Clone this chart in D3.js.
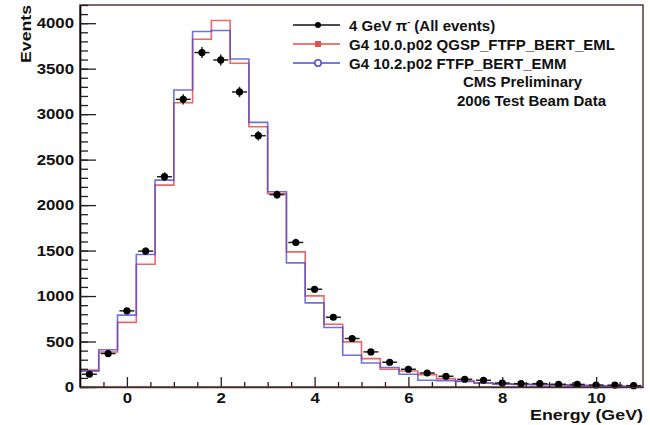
<!DOCTYPE html>
<html>
<head>
<meta charset="utf-8">
<script src="https://cdn.jsdelivr.net/npm/d3@7"></script>
<style>
  html, body { margin: 0; padding: 0; background: #fff; }
  svg { display: block; }
  text { font-family: "Liberation Sans", Arial, Helvetica, sans-serif; font-weight: bold; }
</style>
</head>
<body>
<svg id="chart" width="650" height="425"></svg>
<script>
// Bin centres of the energy histogram (GeV), bins are 0.4 GeV wide
const energyBins = [-0.8, -0.4, 0.0, 0.4, 0.8, 1.2, 1.6, 2.0, 2.4, 2.8,
                    3.2, 3.6, 4.0, 4.4, 4.8, 5.2, 5.6, 6.0, 6.4, 6.8,
                    7.2, 7.6, 8.0, 8.4, 8.8, 9.2, 9.6, 10.0, 10.4, 10.8];
const binWidth = 0.4;

// 2006 test beam data, 4 GeV pi- (all events)
const beamData = [140, 368, 837, 1494, 2312, 3163, 3677, 3596, 3244, 2763,
                  2115, 1589, 1075, 767, 533, 386, 272, 195, 154, 118,
                  85, 74, 44, 37, 37, 30, 28, 22, 20, 15];

// G4 10.0.p02 QGSP_FTFP_BERT_EML
const qgspEml = [185, 385, 710, 1350, 2220, 3126, 3824, 4029, 3560, 2862,
                 2125, 1486, 1002, 690, 496, 312, 195, 176, 136, 92,
                 66, 44, 35, 30, 28, 24, 18, 13, 9, 6];

// G4 10.2.p02 FTFP_BERT_EMM
const ftfpEmm = [175, 410, 790, 1457, 2275, 3266, 3908, 3919, 3607, 2910,
                 2147, 1365, 925, 654, 349, 264, 215, 140, 75, 70,
                 62, 44, 32, 28, 26, 22, 17, 12, 8, 5];

const xTicks = [0, 2, 4, 6, 8, 10];
const yTicks = [0, 500, 1000, 1500, 2000, 2500, 3000, 3500, 4000];
const xDomain = [-1, 11];
const yDomain = [0, 4200];

const legendLabels = ["4 GeV \u03C0", "G4 10.0.p02 QGSP_FTFP_BERT_EML", "G4 10.2.p02 FTFP_BERT_EMM"];
const noteLabels = ["CMS Preliminary", "2006 Test Beam Data"];

const RED = "rgb(232,78,72)";
const BLUE = "rgb(76,76,215)";

const svg = d3.select("#chart");
const frame = { left: 80, right: 643, top: 5, bottom: 387 };

const x = d3.scaleLinear().domain(xDomain).range([frame.left, frame.right]);
const y = d3.scaleLinear().domain(yDomain).range([frame.bottom, frame.top]);

// frame (top / right edges)
svg.append("rect")
  .attr("x", frame.left).attr("y", frame.top)
  .attr("width", frame.right - frame.left).attr("height", frame.bottom - frame.top)
  .attr("fill", "none").attr("stroke", "#5a3838").attr("stroke-width", 1.5);

// step outline of a histogram
function histPoints(values) {
  const lo = energyBins.map(c => c - binWidth / 2);
  const pts = [[lo[0], 0]];
  values.forEach((v, i) => pts.push([lo[i], v]));
  pts.push([lo[lo.length - 1] + binWidth, values[values.length - 1]]);
  pts.push([lo[lo.length - 1] + binWidth, 0]);
  return pts;
}
const stepLine = d3.line().x(d => x(d[0])).y(d => y(d[1])).curve(d3.curveStepAfter);

svg.append("path").attr("d", stepLine(histPoints(qgspEml)))
  .attr("fill", "none").attr("stroke", RED).attr("stroke-width", 1.6).attr("stroke-opacity", 0.85);
svg.append("path").attr("d", stepLine(histPoints(ftfpEmm)))
  .attr("fill", "none").attr("stroke", BLUE).attr("stroke-width", 1.6).attr("stroke-opacity", 0.8);

// data points with error bars
const xErr = 0.16;
const pts = svg.append("g").selectAll("g").data(energyBins.map((c, i) => ({ c, v: beamData[i] })))
  .join("g");
pts.append("line")
  .attr("x1", d => x(d.c - xErr)).attr("x2", d => x(d.c + xErr))
  .attr("y1", d => y(d.v)).attr("y2", d => y(d.v))
  .attr("stroke", "#222").attr("stroke-width", 1.5);
pts.append("line")
  .attr("x1", d => x(d.c)).attr("x2", d => x(d.c))
  .attr("y1", d => y(d.v + Math.sqrt(d.v))).attr("y2", d => y(Math.max(0, d.v - Math.sqrt(d.v))))
  .attr("stroke", "#222").attr("stroke-width", 1.5);
pts.append("circle")
  .attr("cx", d => x(d.c)).attr("cy", d => y(d.v)).attr("r", 3.6)
  .attr("fill", "#000");

// axes
const axisTextScale = "scale(1.2,1)";
const fmt = d3.format("d");

const yMinor = d3.axisLeft(y).tickValues(d3.range(0, 4201, 100))
  .tickSizeInner(-8).tickSizeOuter(0).tickFormat("");
svg.append("g").attr("transform", `translate(${frame.left},0)`).call(yMinor)
  .call(g => g.select(".domain").remove())
  .call(g => g.selectAll("line").attr("stroke", "#222").attr("stroke-width", 1.3));

const yMajor = d3.axisLeft(y).tickValues(yTicks).tickFormat(fmt)
  .tickSizeInner(-16).tickSizeOuter(0).tickPadding(5);
svg.append("g").attr("transform", `translate(${frame.left},0)`).call(yMajor)
  .call(g => g.select(".domain").attr("stroke", "#000").attr("stroke-width", 1.6))
  .call(g => g.selectAll("line").attr("stroke", "#222").attr("stroke-width", 1.3))
  .call(g => g.selectAll("text").attr("font-size", 14).attr("font-family", "Liberation Sans, Arial, sans-serif")
    .attr("font-weight", "bold").attr("fill", "#111").attr("transform", axisTextScale));

const xMinorVals = d3.range(-0.5, 11, 0.5).filter(v => !xTicks.includes(v));
const xMinor = d3.axisBottom(x).tickValues(xMinorVals).tickSizeInner(-5).tickSizeOuter(0).tickFormat("");
svg.append("g").attr("transform", `translate(0,${frame.bottom})`).call(xMinor)
  .call(g => g.select(".domain").remove())
  .call(g => g.selectAll("line").attr("stroke", "#222").attr("stroke-width", 1.3));

const xMajor = d3.axisBottom(x).tickValues(xTicks).tickFormat(fmt)
  .tickSizeInner(-10).tickSizeOuter(0).tickPadding(6);
svg.append("g").attr("transform", `translate(0,${frame.bottom})`).call(xMajor)
  .call(g => g.select(".domain").attr("stroke", "#4a2a2a").attr("stroke-width", 1.6))
  .call(g => g.selectAll("line").attr("stroke", "#222").attr("stroke-width", 1.3))
  .call(g => g.selectAll("text").attr("font-size", 14).attr("font-family", "Liberation Sans, Arial, sans-serif")
    .attr("font-weight", "bold").attr("fill", "#111").attr("transform", axisTextScale));

// axis titles
svg.append("text").attr("transform", `translate(${frame.right},420) scale(1.19,1)`)
  .attr("text-anchor", "end").attr("font-size", 15).attr("fill", "#111").text("Energy (GeV)");
svg.append("text").attr("transform", `translate(31,5) rotate(-90) scale(1.18,1)`)
  .attr("text-anchor", "end").attr("font-size", 15).attr("fill", "#111").text("Events");

// legend
const legend = svg.append("g");
const rowY = [25, 44, 63];
const rowColor = ["#111", RED, BLUE];
rowY.forEach((ry, i) => {
  legend.append("line").attr("x1", 293).attr("x2", 340).attr("y1", ry).attr("y2", ry)
    .attr("stroke", rowColor[i]).attr("stroke-width", 1.5);
});
legend.append("circle").attr("cx", 318).attr("cy", rowY[0]).attr("r", 3).attr("fill", "#000");
legend.append("rect").attr("x", 315).attr("y", rowY[1] - 3).attr("width", 6).attr("height", 6).attr("fill", RED);
legend.append("circle").attr("cx", 318).attr("cy", rowY[2]).attr("r", 3.2)
  .attr("fill", "#fff").attr("stroke", BLUE).attr("stroke-width", 1.5);

const t0 = legend.append("text").attr("x", 349).attr("y", rowY[0] + 5.5).attr("font-size", 15).attr("fill", "#111");
t0.append("tspan").text(legendLabels[0]);
t0.append("tspan").attr("font-size", 9).attr("dy", -6).text("-");
t0.append("tspan").attr("dy", 6).text(" (All events)");
legend.append("text").attr("x", 349).attr("y", rowY[1] + 5.5).attr("font-size", 15).attr("fill", "#111").text(legendLabels[1]);
legend.append("text").attr("x", 349).attr("y", rowY[2] + 5.5).attr("font-size", 15).attr("fill", "#111").text(legendLabels[2]);
legend.append("text").attr("x", 463).attr("y", 87).attr("font-size", 15).attr("fill", "#111").text(noteLabels[0]);
legend.append("text").attr("x", 457).attr("y", 106).attr("font-size", 15).attr("fill", "#111").text(noteLabels[1]);
</script>
</body>
</html>
